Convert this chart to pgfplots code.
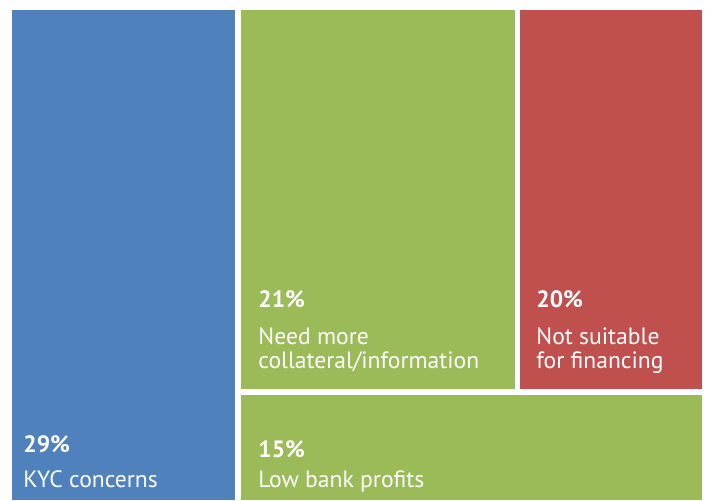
\documentclass[border=0pt]{standalone}
\usepackage{pgfplots}
\pgfplotsset{compat=1.18}
\usepackage{fontspec}
\setmainfont{PT Sans}
\definecolor{cblue}{HTML}{4F81BD}
\definecolor{cgreen}{HTML}{9BBB59}
\definecolor{cred}{HTML}{C0504D}
\begin{document}
\begin{tikzpicture}
\begin{axis}[
  width=353pt, height=250pt, scale only axis,
  xmin=0, xmax=706, ymin=0, ymax=500, y dir=reverse,
  hide axis, clip=false,
]
\path (rel axis cs:0,0) rectangle (rel axis cs:1,1);
% KYC concerns 29%
\addplot[fill=cblue, draw=none] coordinates {(12,10) (235,10) (235,500) (12,500)} -- cycle;
% Need more collateral 21%
\addplot[fill=cgreen, draw=none] coordinates {(241,10) (515,10) (515,389) (241,389)} -- cycle;
% Not suitable 20%
\addplot[fill=cred, draw=none] coordinates {(520,10) (702,10) (702,389) (520,389)} -- cycle;
% Low bank profits 15%
\addplot[fill=cgreen, draw=none] coordinates {(241,395) (702,395) (702,500) (241,500)} -- cycle;
\begin{scope}[every node/.style={anchor=base west, inner sep=0pt, text=white, font=\fontsize{11.8pt}{14pt}\selectfont}]
\node at (axis cs:23,452) {\bfseries 29\%};
\node at (axis cs:23,487) {KYC concerns};
\node at (axis cs:258,307) {\bfseries 21\%};
\node at (axis cs:258,344) {Need more};
\node at (axis cs:258,368) {collateral/information};
\node at (axis cs:536,307) {\bfseries 20\%};
\node at (axis cs:536,344) {Not suitable};
\node at (axis cs:536,368) {for financing};
\node at (axis cs:258,457) {\bfseries 15\%};
\node at (axis cs:258,487) {Low bank profits};
\end{scope}
\end{axis}
\end{tikzpicture}
\end{document}
